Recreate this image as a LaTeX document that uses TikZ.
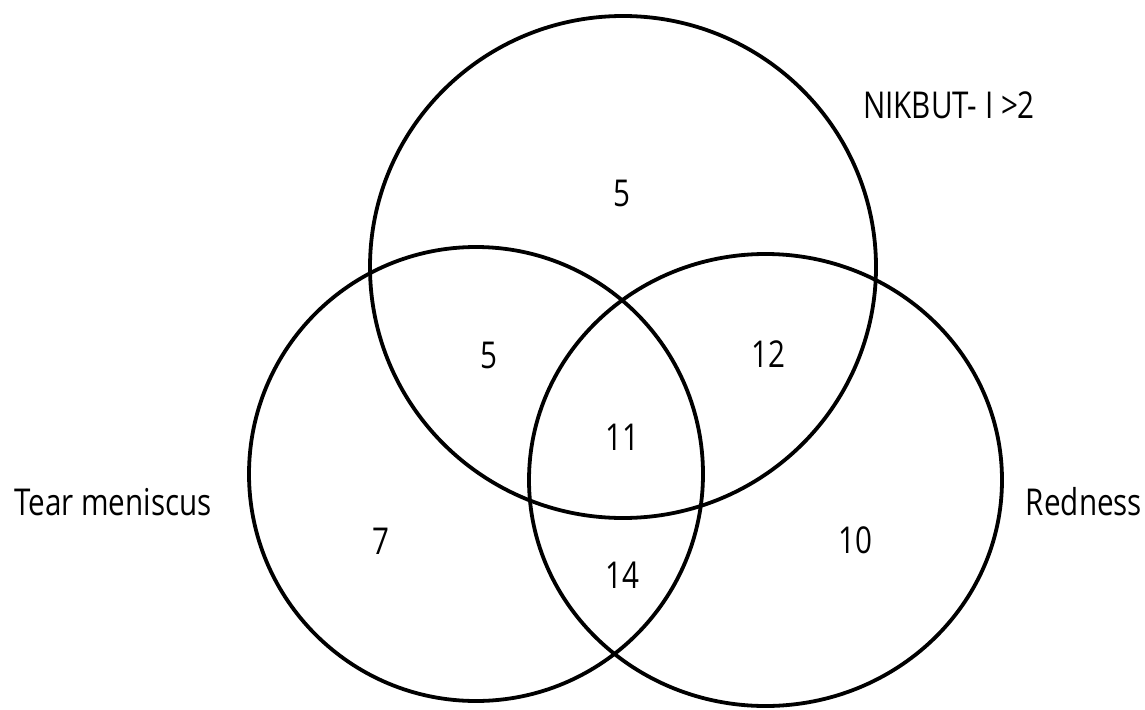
\documentclass[tikz,border=0pt]{standalone}
\usepackage{fontspec}
\setmainfont[FakeStretch=0.8]{Open Sans}
\begin{document}
\begin{tikzpicture}[x=1pt,y=-1pt,
  ring/.style={draw=black,line width=3.8pt},
  lbl/.style={inner sep=0pt,font=\fontsize{37}{42}\selectfont},
  num/.style={inner sep=0pt,font=\fontsize{37}{42}\selectfont}]
\useasboundingbox (0,0) rectangle (1145,709);
% circles
\draw[ring] (623,267) ellipse [x radius=253, y radius=251];
\draw[ring] (476,474) ellipse [x radius=227, y radius=227];
\draw[ring] (765.5,480) ellipse [x radius=236.5, y radius=226];
% set labels
\node[lbl] (nik) at (949,105) {NIKBUT- I >2};
\node[lbl] (tear) at (113,502) {Tear meniscus};
\node[lbl] (red) at (1084,502) {Redness};
% counts
\node[num] (n5a) at (622,193) {5};
\node[num] (n5b) at (489,355) {5};
\node[num] (n12) at (768,354) {12};
\node[num] (n11) at (622,437) {11};
\node[num] (n7) at (381,541) {7};
\node[num] (n10) at (855,540) {10};
\node[num] (n14) at (622,575) {14};
\end{tikzpicture}
\end{document}
